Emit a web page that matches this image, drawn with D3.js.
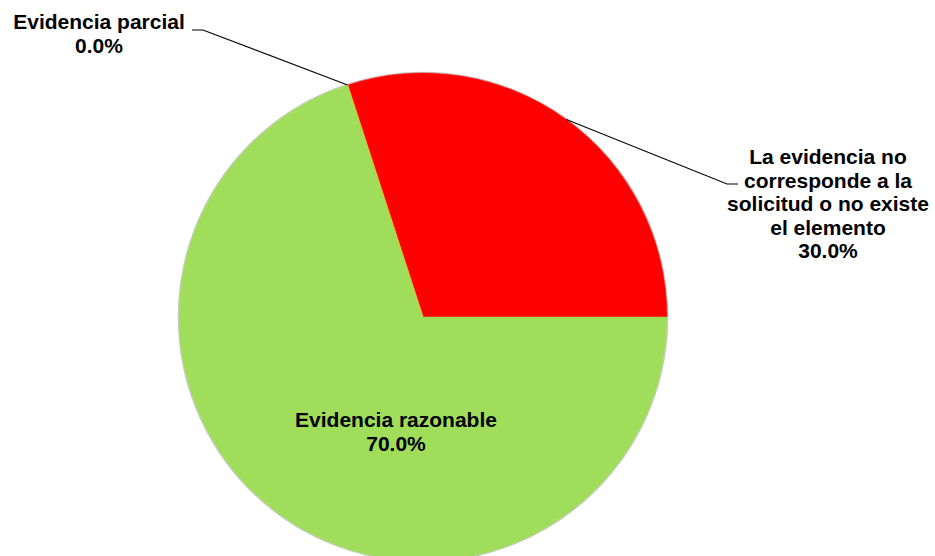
<!DOCTYPE html>
<html>
<head>
<meta charset="utf-8">
<script src="https://cdn.jsdelivr.net/npm/d3@7/dist/d3.min.js"></script>
<style>
  html, body { margin: 0; padding: 0; background: #fff; }
  svg { display: block; }
  text { font-family: "Liberation Sans", Arial, sans-serif; font-weight: bold; fill: #000; }
</style>
</head>
<body>
<svg id="chart" width="935" height="556"></svg>
<script>
// Categories and their shares (percent)
const categories = [
  "La evidencia no corresponde a la solicitud o no existe el elemento",
  "Evidencia razonable",
  "Evidencia parcial"
];
const values = [30.0, 70.0, 0.0];
const colors = ["#FF0000", "#9FDD5A", "#F2C500"];
// Label lines as shown on the chart
const labelLines = [
  ["La evidencia no", "corresponde a la", "solicitud o no existe", "el elemento"],
  ["Evidencia razonable"],
  ["Evidencia parcial"]
];

const cx = 423, cy = 317, R = 244;
const fontSize = 21, lineH = 23.5;

const svg = d3.select("#chart");
const g = svg.append("g").attr("transform", `translate(${cx},${cy})`);

const data = categories.map((c, i) => ({ name: c, value: values[i], lines: labelLines[i], color: colors[i] }));

const startDeg = -18;
const pie = d3.pie().value(d => d.value).sort(null)
  .startAngle(startDeg * Math.PI / 180)
  .endAngle((startDeg + 360) * Math.PI / 180);
const arcs = pie(data);

const arc = d3.arc().innerRadius(0).outerRadius(R);
const edge = d3.arc().innerRadius(R).outerRadius(R);

// soft rim around the pie
g.append("circle").attr("r", R + 0.6).attr("fill", "none")
  .attr("stroke", "#c8c8c8").attr("stroke-width", 1.4);

g.selectAll("path.slice").data(arcs).enter().append("path")
  .attr("class", "slice")
  .attr("d", arc)
  .attr("fill", d => d.data.color)
  .attr("stroke", d => d.data.color)
  .attr("stroke-width", 0.5);

const fmt = v => v.toFixed(1) + "%";

// Label placement (relative to pie centre); leader runs from the label
// end through a short horizontal tick to the slice rim
const labelLayout = [
  { x: 405, y: -153, elbow: [315, -133, 304, -133] },
  { x: -27, y: 110, elbow: null },
  { x: -324, y: -288, elbow: [-231, -287, -220, -287] }
];

arcs.forEach((a, i) => {
  const L = labelLayout[i];
  const lines = a.data.lines.concat([fmt(a.data.value)]);
  const t = g.append("text")
    .attr("text-anchor", "middle")
    .style("font-size", fontSize + "px");
  lines.forEach((s, k) => {
    t.append("tspan").attr("x", L.x).attr("y", L.y + k * lineH).text(s);
  });
  if (L.elbow) {
    const p = edge.centroid(a);
    const e = L.elbow;
    g.append("polyline")
      .attr("points", [[e[0], e[1]], [e[2], e[3]], p].map(q => q.join(",")).join(" "))
      .attr("fill", "none").attr("stroke", "#000").attr("stroke-width", 1.1);
  }
});
</script>
</body>
</html>
